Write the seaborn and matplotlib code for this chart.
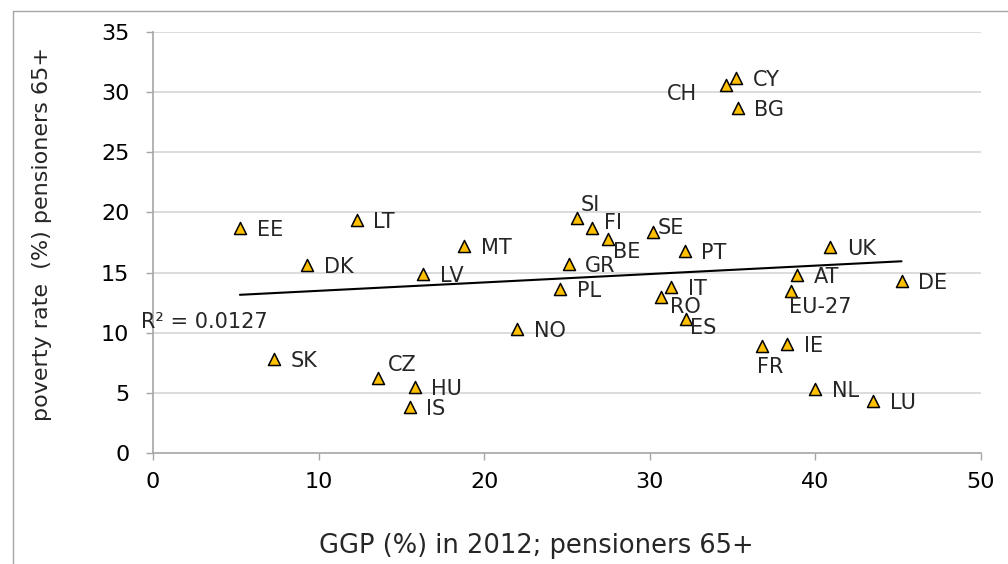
#!/usr/bin/env python3

import matplotlib
matplotlib.use("Agg")
import matplotlib.pyplot as plt
from matplotlib.lines import Line2D
import numpy as np
import pandas as pd
import seaborn as sns

countries = ['EE', 'LT', 'DK', 'LV', 'MT', 'GR', 'PL', 'SI', 'FI', 'BE', 'SE', 'PT',
             'CH', 'CY', 'BG', 'UK', 'AT', 'DE', 'IT', 'RO', 'EU-27', 'ES', 'NO', 'SK',
             'CZ', 'HU', 'IS', 'FR', 'IE', 'NL', 'LU']
ggp = [5.25, 12.3, 9.3, 16.3, 18.8, 25.1, 24.6, 25.6, 26.5, 27.5, 30.2, 32.1,
       34.6, 35.2, 35.3, 40.9, 38.9, 45.2, 31.3, 30.7, 38.5, 32.2, 22.0, 7.3,
       13.6, 15.8, 15.5, 36.8, 38.3, 40.0, 43.5]
poverty = [18.7, 19.4, 15.6, 14.9, 17.2, 15.7, 13.6, 19.5, 18.7, 17.8, 18.4, 16.8,
           30.6, 31.2, 28.7, 17.1, 14.8, 14.3, 13.8, 13.0, 13.5, 11.1, 10.3, 7.8,
           6.2, 5.5, 3.8, 8.9, 9.1, 5.3, 4.3]
r2_text = 'R² = 0.0127'

# label placement (points), default is to the right of the marker
label_offsets = {
    'SI': (3, 11), 'FI': (9, 5), 'BE': (3, -8), 'SE': (3, 4), 'RO': (6, -6),
    'EU-27': (-1, -10), 'ES': (3, -5), 'CZ': (7, 11), 'FR': (-4, -14),
    'CH': (-21, -5),
}

df = pd.DataFrame({'country': countries, 'ggp': ggp, 'poverty': poverty})

sns.set_style('white')
plt.rcParams['font.family'] = ['DejaVu Sans']

fig = plt.figure(figsize=(10.08, 5.64), dpi=100)
ax = fig.add_axes([153 / 1008, 1 - 453 / 564, 828 / 1008, 421 / 564])

grid_col = '#d9d9d9'
axis_col = '#a6a6a6'
for yv in range(5, 40, 5):
    ax.axhline(yv, color=grid_col, lw=1.3, zorder=0)

sns.regplot(data=df, x='ggp', y='poverty', scatter=False, ci=None, truncate=True,
            color='black', line_kws={'lw': 1.5, 'zorder': 2}, ax=ax)
sns.scatterplot(data=df, x='ggp', y='poverty', marker='^', s=75, color='#FFC000',
                edgecolor='black', linewidth=1.1, zorder=3, ax=ax)

for c, xv, yv in zip(countries, ggp, poverty):
    dx, dy = label_offsets.get(c, (12, 0))
    ha = 'right' if c == 'CH' else 'left'
    ax.annotate(c, (xv, yv), xytext=(dx, dy), textcoords='offset points',
                ha=ha, va='center_baseline', fontsize=15, zorder=4)

ax.text(-0.75, 10.9, r2_text, ha='left', va='center', fontsize=15, clip_on=False)

ax.set_xlim(0, 50)
ax.set_ylim(0, 35)
ax.set_xticks(range(0, 51, 10))
ax.set_yticks(range(0, 36, 5))
ax.tick_params(axis='both', direction='out', length=5, width=1, color=axis_col,
               labelsize=16, labelcolor='black', bottom=True, left=True)
ax.tick_params(axis='x', pad=9)
ax.tick_params(axis='y', pad=12)
for side in ['top', 'right']:
    ax.spines[side].set_visible(False)
for side in ['left', 'bottom']:
    ax.spines[side].set_color(axis_col)
    ax.spines[side].set_linewidth(1.2)

ax.set_xlabel('GGP (%) in 2012; pensioners 65+', fontsize=18.5)
ax.set_ylabel('poverty rate  (%) pensioners 65+', fontsize=16)
ax.xaxis.set_label_coords(0.463, -0.19)
ax.yaxis.set_label_coords(-0.122, 0.52)

# outer chart frame
fig.add_artist(Line2D([13 / 1008, 1], [1 - 11 / 564, 1 - 11 / 564], color=axis_col, lw=1))
fig.add_artist(Line2D([13 / 1008, 13 / 1008], [0, 1 - 11 / 564], color=axis_col, lw=1))

fig.savefig('out.png', dpi=100)
